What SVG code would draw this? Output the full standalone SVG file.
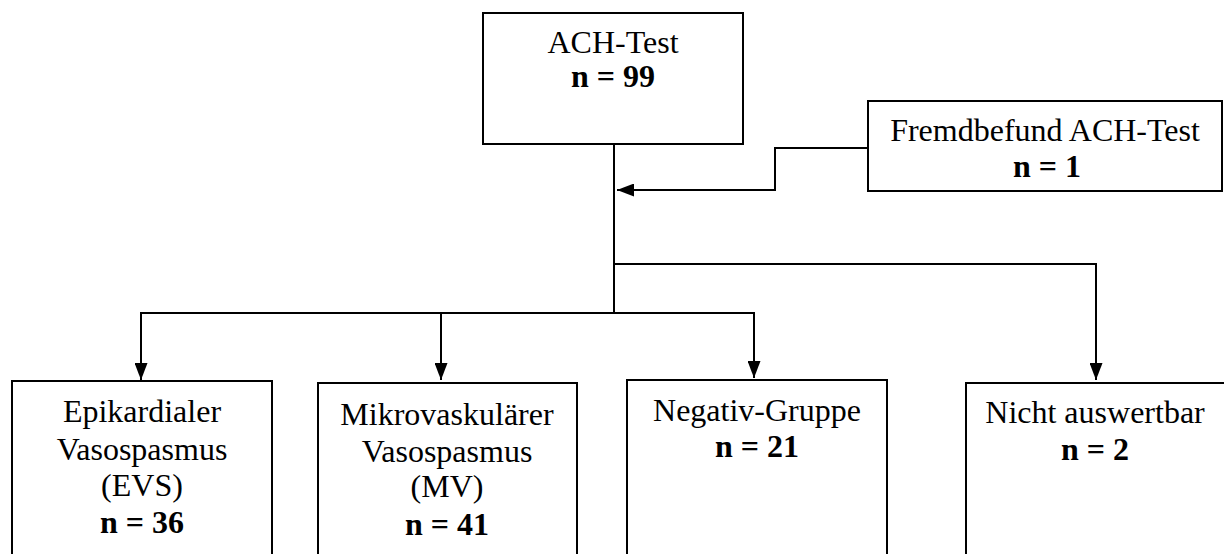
<svg xmlns="http://www.w3.org/2000/svg" width="1224" height="554" viewBox="0 0 1224 554">
<style>
.box{fill:#fff;stroke:#000;stroke-width:2}
.t{font-family:"Liberation Serif","Times New Roman",serif;font-size:32px;text-anchor:middle;fill:#000}
.b{font-weight:bold}
.c{fill:none;stroke:#000;stroke-width:2}
</style>
<defs>
<marker id="ah" markerUnits="userSpaceOnUse" markerWidth="18" markerHeight="13" refX="17" refY="6.5" orient="auto">
<path d="M0,0 L17,6.5 L0,13 Z" fill="#000"/>
</marker>
</defs>
<rect width="1224" height="554" fill="#fff"/>
<g id="connectors">
<line class="c" x1="614" y1="144" x2="614" y2="313"/>
<polyline class="c" points="868,148 775,148 775,190 617,190" marker-end="url(#ah)"/>
<polyline class="c" points="614,264 1096,264 1096,380" marker-end="url(#ah)"/>
<line class="c" x1="141" y1="313" x2="754" y2="313"/>
<line class="c" x1="141" y1="312" x2="141" y2="380" marker-end="url(#ah)"/>
<line class="c" x1="441" y1="313" x2="441" y2="380" marker-end="url(#ah)"/>
<line class="c" x1="754" y1="312" x2="754" y2="378" marker-end="url(#ah)"/>
</g>
<g id="ach">
<rect class="box" x="483" y="13" width="260" height="131"/>
<text class="t" x="613" y="53">ACH-Test</text>
<text class="t b" x="613" y="87">n = 99</text>
</g>
<g id="fremd">
<rect class="box" x="868" y="101" width="354" height="90"/>
<text class="t" x="1045" y="141">Fremdbefund ACH-Test</text>
<text class="t b" x="1047" y="177">n = 1</text>
</g>
<g id="evs">
<rect class="box" x="12" y="381" width="260" height="190"/>
<text class="t" x="142" y="422">Epikardialer</text>
<text class="t" x="142" y="460">Vasospasmus</text>
<text class="t" x="142" y="496">(EVS)</text>
<text class="t b" x="142" y="533">n = 36</text>
</g>
<g id="mv">
<rect class="box" x="318" y="383" width="259" height="190"/>
<text class="t" x="447" y="425">Mikrovaskulärer</text>
<text class="t" x="447" y="462">Vasospasmus</text>
<text class="t" x="447" y="497">(MV)</text>
<text class="t b" x="447" y="535">n = 41</text>
</g>
<g id="neg">
<rect class="box" x="627" y="380" width="260" height="190"/>
<text class="t" x="757" y="421">Negativ-Gruppe</text>
<text class="t b" x="757" y="457">n = 21</text>
</g>
<g id="nicht">
<rect class="box" x="966" y="383" width="270" height="190"/>
<text class="t" x="1095" y="423">Nicht auswertbar</text>
<text class="t b" x="1095" y="460">n = 2</text>
</g>
</svg>
